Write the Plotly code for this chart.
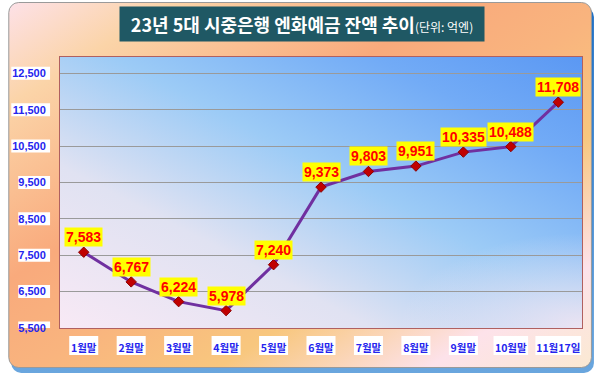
import base64
import plotly.graph_objects as go

# ---- data ----
categories = ["1월말", "2월말", "3월말", "4월말", "5월말", "6월말", "7월말", "8월말", "9월말", "10월말", "11월17일"]
balances = [7583, 6767, 6224, 5978, 7240, 9373, 9803, 9951, 10335, 10488, 11708]
y_tick_values = [5500, 6500, 7500, 8500, 9500, 10500, 11500, 12500]
y_tick_labels = ["5,500", "6,500", "7,500", "8,500", "9,500", "10,500", "11,500", "12,500"]
title_main = "23년 5대 시중은행 엔화예금 잔액 추이"
title_unit = "(단위: 억엔)"

# ---- geometry (pixels) ----
W, H = 600, 377
ML, MR, MT, MB = 57, 18, 57, 49
PW, PH = W - ML - MR, H - MT - MB
Y_MIN, Y_MAX = 5500, 12950


def px_to_paper_x(px):
    return (px - ML) / PW


def px_to_paper_y(py):
    return (H - MB - py) / PH


# background drawing (frame, gradients, shadow) as an SVG image
svg = f"""<svg xmlns='http://www.w3.org/2000/svg' width='{W}' height='{H}' viewBox='0 0 {W} {H}' preserveAspectRatio='none'>
<defs>
<linearGradient id='o' x1='0' y1='0' x2='1' y2='1'>
<stop offset='0' stop-color='#fde1e8'/>
<stop offset='0.14' stop-color='#fbd4a8'/>
<stop offset='0.38' stop-color='#f9aa7c'/>
<stop offset='0.52' stop-color='#f9b47e'/>
<stop offset='0.68' stop-color='#f8c77e'/>
<stop offset='0.86' stop-color='#fde2ea'/>
<stop offset='1' stop-color='#fbe9d2'/>
</linearGradient>
<linearGradient id='p' x1='0' y1='1' x2='1' y2='0'>
<stop offset='0' stop-color='#f8e9f5'/>
<stop offset='0.3' stop-color='#e0e2f2'/>
<stop offset='0.55' stop-color='#9ccbf6'/>
<stop offset='0.8' stop-color='#72abf6'/>
<stop offset='1' stop-color='#5b98f3'/>
</linearGradient>
<radialGradient id='r' cx='1' cy='1' r='0.35'>
<stop offset='0' stop-color='#f3e6f2' stop-opacity='0.9'/>
<stop offset='1' stop-color='#f3e6f2' stop-opacity='0'/>
</radialGradient>
<linearGradient id='s' x1='0' y1='0' x2='0' y2='1'>
<stop offset='0' stop-color='#1f6fc4'/>
<stop offset='1' stop-color='#6aa6de'/>
</linearGradient>
</defs>
<rect x='8' y='7' width='586' height='366' rx='10' fill='url(#s)'/>
<rect x='5.5' y='2.5' width='586' height='365' rx='10' fill='url(#o)' stroke='#9a9a9a' stroke-width='1'/>
<rect x='{ML}' y='{MT}' width='{PW}' height='{PH}' fill='url(#p)'/>
<rect x='{ML}' y='{MT}' width='{PW}' height='{PH}' fill='url(#r)'/>
</svg>"""
bg_uri = "data:image/svg+xml;base64," + base64.b64encode(svg.encode("utf-8")).decode("ascii")

fig = go.Figure()

fig.add_trace(go.Scatter(
    x=categories,
    y=balances,
    mode="lines+markers",
    line=dict(color="#7030a0", width=3),
    marker=dict(symbol="diamond", size=8, color="#c00000", line=dict(color="#8b0000", width=1)),
    hoverinfo="skip",
    showlegend=False,
))

# data labels
for c, v in zip(categories, balances):
    fig.add_annotation(
        x=c, y=v, xref="x", yref="y",
        text=f"<b>{v:,}</b>",
        showarrow=False,
        yanchor="bottom", yshift=5,
        bgcolor="#ffff00",
        borderpad=1,
        font=dict(family="Liberation Sans, Arial", size=14, color="#ff0000"),
    )

# title box
fig.add_annotation(
    xref="paper", yref="paper",
    x=px_to_paper_x(300), y=px_to_paper_y(24),
    xanchor="center", yanchor="middle",
    text=f"<b>{title_main}</b><span style='font-size:12px'>{title_unit}</span>",
    showarrow=False,
    bgcolor="#1f5864",
    width=362, height=32, borderpad=1,
    font=dict(family="Noto Sans CJK KR", size=18, color="#ffffff"),
)

shapes = []
# white boxes behind y tick labels
half = 6.5 * (Y_MAX - Y_MIN) / PH
for lab, v in zip(y_tick_labels, y_tick_values):
    w = 7 * len(lab) - 3
    shapes.append(dict(type="rect", xref="paper", yref="y",
                       x0=px_to_paper_x(47 - w), x1=px_to_paper_x(47),
                       y0=v - half, y1=v + half,
                       fillcolor="#ffffff", line=dict(width=0), layer="below"))
# white boxes behind x tick labels
band = PW / len(categories)
for i, lab in enumerate(categories):
    n_digits = sum(ch.isdigit() for ch in lab)
    n_other = len(lab) - n_digits
    w = 5.6 * n_digits + 10.3 * n_other + 3
    shapes.append(dict(type="rect", xref="x", yref="paper",
                       x0=i - w / 2 / band, x1=i + w / 2 / band,
                       y0=px_to_paper_y(355), y1=px_to_paper_y(336),
                       fillcolor="#ffffff", line=dict(width=0), layer="below"))

fig.update_layout(
    width=W, height=H,
    margin=dict(l=ML, r=MR, t=MT, b=MB, pad=0),
    paper_bgcolor="#ffffff",
    plot_bgcolor="rgba(0,0,0,0)",
    images=[dict(source=bg_uri, xref="paper", yref="paper",
                 x=px_to_paper_x(0), y=px_to_paper_y(0),
                 sizex=W / PW, sizey=H / PH,
                 xanchor="left", yanchor="top",
                 sizing="stretch", layer="below")],
    shapes=shapes,
    xaxis=dict(
        type="category", range=[-0.5, len(categories) - 0.5],
        showgrid=False, zeroline=False,
        showline=True, mirror=True, linecolor="#b06060", linewidth=1,
        ticks="", ticklabelstandoff=10,
        tickfont=dict(family="Noto Sans CJK KR", size=10.5, color="#2424ee", weight="bold"),
    ),
    yaxis=dict(
        range=[Y_MIN, Y_MAX],
        tickvals=y_tick_values, ticktext=y_tick_labels,
        showgrid=True, gridcolor="#9a9a9a", gridwidth=1,
        zeroline=False,
        showline=True, mirror=True, linecolor="#b06060", linewidth=1,
        ticks="", ticklabelstandoff=11,
        tickfont=dict(family="Liberation Sans, Arial", size=11, color="#2424ee", weight="bold"),
    ),
)

fig.write_html("out.html", config={"displayModeBar": False},
               post_script="document.body.style.margin='0';")
